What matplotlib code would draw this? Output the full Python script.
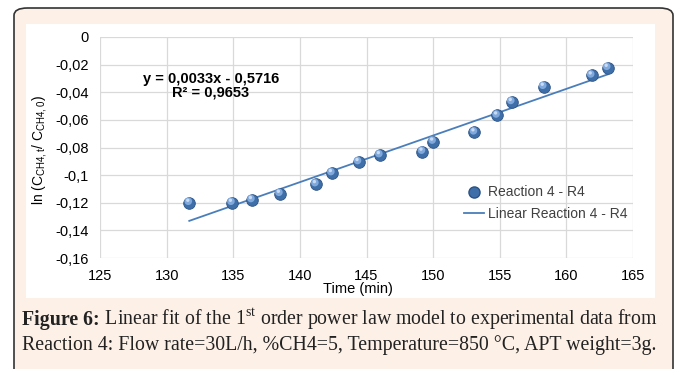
import numpy as np
import matplotlib.pyplot as plt
import matplotlib.transforms as mtransforms
from matplotlib.patches import FancyBboxPatch, Rectangle
from matplotlib.lines import Line2D

plt.rcParams['font.family'] = ['Liberation Sans', 'DejaVu Sans']
plt.rcParams['mathtext.fontset'] = 'custom'
plt.rcParams['mathtext.rm'] = 'Liberation Serif'
plt.rcParams['mathtext.sf'] = 'Liberation Sans'

# data
time_min = [131.7, 134.9, 136.4, 138.5, 141.2, 142.4, 144.4, 146.0, 149.2,
            150.0, 153.1, 154.8, 155.9, 158.3, 161.9, 163.1]
ln_ratio = [-0.120, -0.120, -0.118, -0.1135, -0.1065, -0.0985, -0.0905, -0.0855,
            -0.083, -0.0757, -0.069, -0.0568, -0.047, -0.036, -0.0278, -0.0223]
xticks = [125, 130, 135, 140, 145, 150, 155, 160, 165]
yticks = [0, -0.02, -0.04, -0.06, -0.08, -0.1, -0.12, -0.14, -0.16]
ytick_labels = ['0', '-0,02', '-0,04', '-0,06', '-0,08', '-0,1', '-0,12', '-0,14', '-0,16']
equation = 'y = 0,0033x - 0,5716\nR² = 0,9653'

blue = '#4a7ebb'

fig = plt.figure(figsize=(6.77, 3.69), dpi=100)

# peach panel with rounded border, white chart area
fig.patches.append(FancyBboxPatch((14 / 677, -0.05), 659 / 677, 1 - 8 / 369 + 0.05,
                                  boxstyle='round,pad=0,rounding_size=0.02',
                                  transform=fig.transFigure, facecolor='#fdf0e7',
                                  edgecolor='#333333', linewidth=1.2, zorder=-2))
fig.patches.append(Rectangle((26 / 677, 1 - 298 / 369), 629 / 677, 274 / 369,
                             transform=fig.transFigure, facecolor='white',
                             edgecolor='none', zorder=-1))

ax = fig.add_axes([100 / 677, 1 - 258 / 369, 533 / 677, 221 / 369])
ax.set_zorder(2)
ax.set_facecolor('none')
ax.set_xlim(125, 165)
ax.set_ylim(-0.16, 0)
ax.set_xticks(xticks)
ax.set_yticks(yticks)
ax.set_yticklabels(ytick_labels)
ax.tick_params(length=0, labelsize=10.5, colors='black')
ax.tick_params(axis='x', pad=8)
ax.tick_params(axis='y', pad=8)
ax.grid(True, color='#d9d9d9', linewidth=0.9)
ax.set_axisbelow(True)
for s in ax.spines.values():
    s.set_visible(False)

# trend line from least squares fit
coef = np.polyfit(time_min, ln_ratio, 1)
xfit = np.array([min(time_min), max(time_min)])
ax.plot(xfit, np.polyval(coef, xfit), color=blue, lw=1.3, zorder=2)

# sphere-like markers
ax.scatter(time_min, ln_ratio, s=70, color='#3f6fa8', edgecolor='#2b5283', lw=0.6, zorder=3)
hl = mtransforms.offset_copy(ax.transData, fig=fig, x=-1, y=1.5, units='dots')
ax.scatter(time_min, ln_ratio, s=30, color='#7fa8dc', edgecolor='none', zorder=4, transform=hl)
hl2 = mtransforms.offset_copy(ax.transData, fig=fig, x=-1.5, y=2.5, units='dots')
ax.scatter(time_min, ln_ratio, s=6, color='#c8dbf3', edgecolor='none', zorder=5, transform=hl2)

ax.text(0.208, 0.78, equation, transform=ax.transAxes, ha='center', va='center',
        fontsize=10.5, fontweight='bold', linespacing=1.0)

handles = [Line2D([], [], ls='none', marker='o', ms=8, color='#3f6fa8', mec='#2b5283'),
           Line2D([], [], color=blue, lw=1.3)]
ax.legend(handles, ['Reaction 4 - R4', 'Linear Reaction 4 - R4'], loc='upper left',
          bbox_to_anchor=(0.66, 0.385), frameon=False, fontsize=10, handlelength=1.4,
          handletextpad=0.3, labelspacing=0.55, labelcolor='#404040')

fig.text(358 / 677, 1 - 289 / 369, 'Time (min)', ha='center', va='center', fontsize=10.5)
fig.text(40 / 677, 1 - 150 / 369, r'ln (C$_{\mathsf{CH4,t}}$/ C$_{\mathsf{CH4,0}}$)',
         rotation=90, ha='center', va='center', fontsize=10)

# caption
cap = dict(fontsize=14.3, family='Liberation Serif', color='#222222', va='baseline')
t1 = fig.text(22 / 677, 1 - 325 / 369, 'Figure 6:', fontweight='bold', **cap)
fig.text(22 / 677, 1 - 350 / 369,
         'Reaction 4: Flow rate=30L/h, %CH4=5, Temperature=850 °C, APT weight=3g.', **cap)
fig.canvas.draw()
bb = t1.get_window_extent()
fig.text(bb.x1 / 677, 1 - 325 / 369,
         r' Linear fit of the 1$^{\rm st}$ order power law model to experimental data from', **cap)

fig.savefig('out.png', dpi=100)
